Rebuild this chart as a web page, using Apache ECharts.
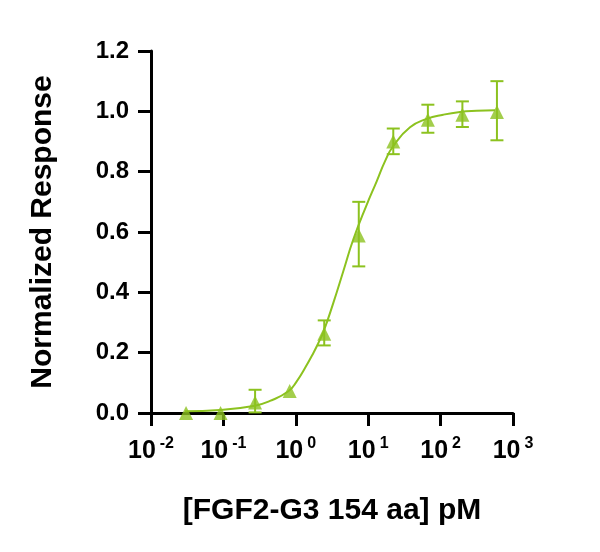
<!DOCTYPE html>
<html>
<head>
    <meta charset="UTF-8">
    <title>FGF2-G3 dose response</title>
    <script src="https://cdn.jsdelivr.net/npm/echarts@6/dist/echarts.min.js"></script>
    <style>
        html, body { margin: 0; padding: 0; background: #fff; }
        #main { width: 600px; height: 552px; }
    </style>
</head>
<body>
    <div id="main"></div>
    <script type="text/javascript">
        // concentrations (pM), 3-fold dilution series
        var conc = [0.0305, 0.0914, 0.274, 0.823, 2.47, 7.41, 22.2, 66.7, 200, 600];
        // mean normalized response
        var response = [0.0, 0.0, 0.035, 0.073, 0.263, 0.588, 0.900, 0.972, 0.989, 0.998];
        // error bar ends (null = hidden behind the marker)
        var errLow = [null, null, 0.002, null, 0.224, 0.486, 0.858, 0.929, 0.948, 0.904];
        var errHigh = [null, null, 0.077, null, 0.307, 0.700, 0.943, 1.022, 1.033, 1.100];

        // fitted curve
        var fitX = [0.0295, 0.0897, 0.273, 0.44, 0.79, 1.03, 1.34, 1.75, 2.05, 2.40, 3.30, 4.53,
            6.22, 9.53, 13.1, 17.1, 22.2, 37.8, 64.3, 109, 185, 315, 564];
        var fitY = [0.006, 0.010, 0.024, 0.040, 0.072, 0.105, 0.149, 0.199, 0.232, 0.268, 0.365, 0.470,
            0.575, 0.690, 0.768, 0.835, 0.885, 0.947, 0.975, 0.989, 0.998, 1.002, 1.004];

        var yTicks = ['0.0', '0.2', '0.4', '0.6', '0.8', '1.0', '1.2'];

        var green = '#8cc21f';
        var font = 'Liberation Sans, Arial, sans-serif';

        var points = conc.map(function (c, i) { return [c, response[i]]; });
        var fit = fitX.map(function (x, i) { return [x, fitY[i]]; });
        var bars = [];
        conc.forEach(function (c, i) {
            if (errLow[i] != null) bars.push([c, errLow[i], errHigh[i]]);
        });

        var myChart = echarts.init(document.getElementById('main'));
        myChart.setOption({
            animation: false,
            grid: { left: 151, top: 51, width: 362, height: 362, containLabel: false },
            xAxis: {
                type: 'log',
                logBase: 10,
                min: 0.01,
                max: 1000,
                name: '[FGF2-G3 154 aa] pM',
                nameLocation: 'middle',
                nameGap: 83,
                nameTextStyle: { fontFamily: font, fontWeight: 'bold', fontSize: 30, color: '#000' },
                axisLine: { lineStyle: { color: '#000', width: 3 } },
                axisTick: { length: 13, lineStyle: { color: '#000', width: 3 } },
                splitLine: { show: false },
                axisLabel: {
                    margin: 23,
                    showMinLabel: true,
                    showMaxLabel: true,
                    formatter: function (v) {
                        var e = Math.round(Math.log(v) / Math.LN10);
                        return '{b|10}{s|' + e + '}';
                    },
                    rich: {
                        b: { fontFamily: font, fontWeight: 'bold', fontSize: 25, color: '#000', verticalAlign: 'bottom', lineHeight: 28 },
                        s: { fontFamily: font, fontWeight: 'bold', fontSize: 16, color: '#000', verticalAlign: 'top', padding: [0, 0, 0, 4], lineHeight: 17 }
                    }
                }
            },
            yAxis: {
                type: 'value',
                min: 0,
                max: 1.2,
                interval: 0.2,
                name: 'Normalized Response',
                nameLocation: 'middle',
                nameGap: 93,
                nameTextStyle: { fontFamily: font, fontWeight: 'bold', fontSize: 30, color: '#000' },
                axisLine: { show: true, lineStyle: { color: '#000', width: 3 } },
                axisTick: { show: true, length: 13, lineStyle: { color: '#000', width: 3 } },
                splitLine: { show: false },
                axisLabel: {
                    margin: 22,
                    fontFamily: font,
                    fontWeight: 'bold',
                    fontSize: 24,
                    color: '#000',
                    formatter: function (v) { return yTicks[Math.round(v / 0.2)]; }
                }
            },
            series: [
                {
                    type: 'line',
                    data: fit,
                    smooth: 0.5,
                    showSymbol: false,
                    lineStyle: { color: green, width: 2 },
                    z: 2
                },
                {
                    type: 'custom',
                    data: bars,
                    renderItem: function (params, api) {
                        var x = api.value(0);
                        var lo = api.coord([x, api.value(1)]);
                        var hi = api.coord([x, api.value(2)]);
                        var w = 6.5;
                        var st = { stroke: green, lineWidth: 2 };
                        return {
                            type: 'group',
                            children: [
                                { type: 'line', shape: { x1: lo[0], y1: lo[1], x2: hi[0], y2: hi[1] }, style: st },
                                { type: 'line', shape: { x1: hi[0] - w, y1: hi[1], x2: hi[0] + w, y2: hi[1] }, style: st },
                                { type: 'line', shape: { x1: lo[0] - w, y1: lo[1], x2: lo[0] + w, y2: lo[1] }, style: st }
                            ]
                        };
                    },
                    z: 3
                },
                {
                    type: 'scatter',
                    data: points,
                    symbol: 'triangle',
                    symbolSize: 14,
                    itemStyle: { color: green },
                    z: 4
                }
            ]
        });
    </script>
</body>
</html>
